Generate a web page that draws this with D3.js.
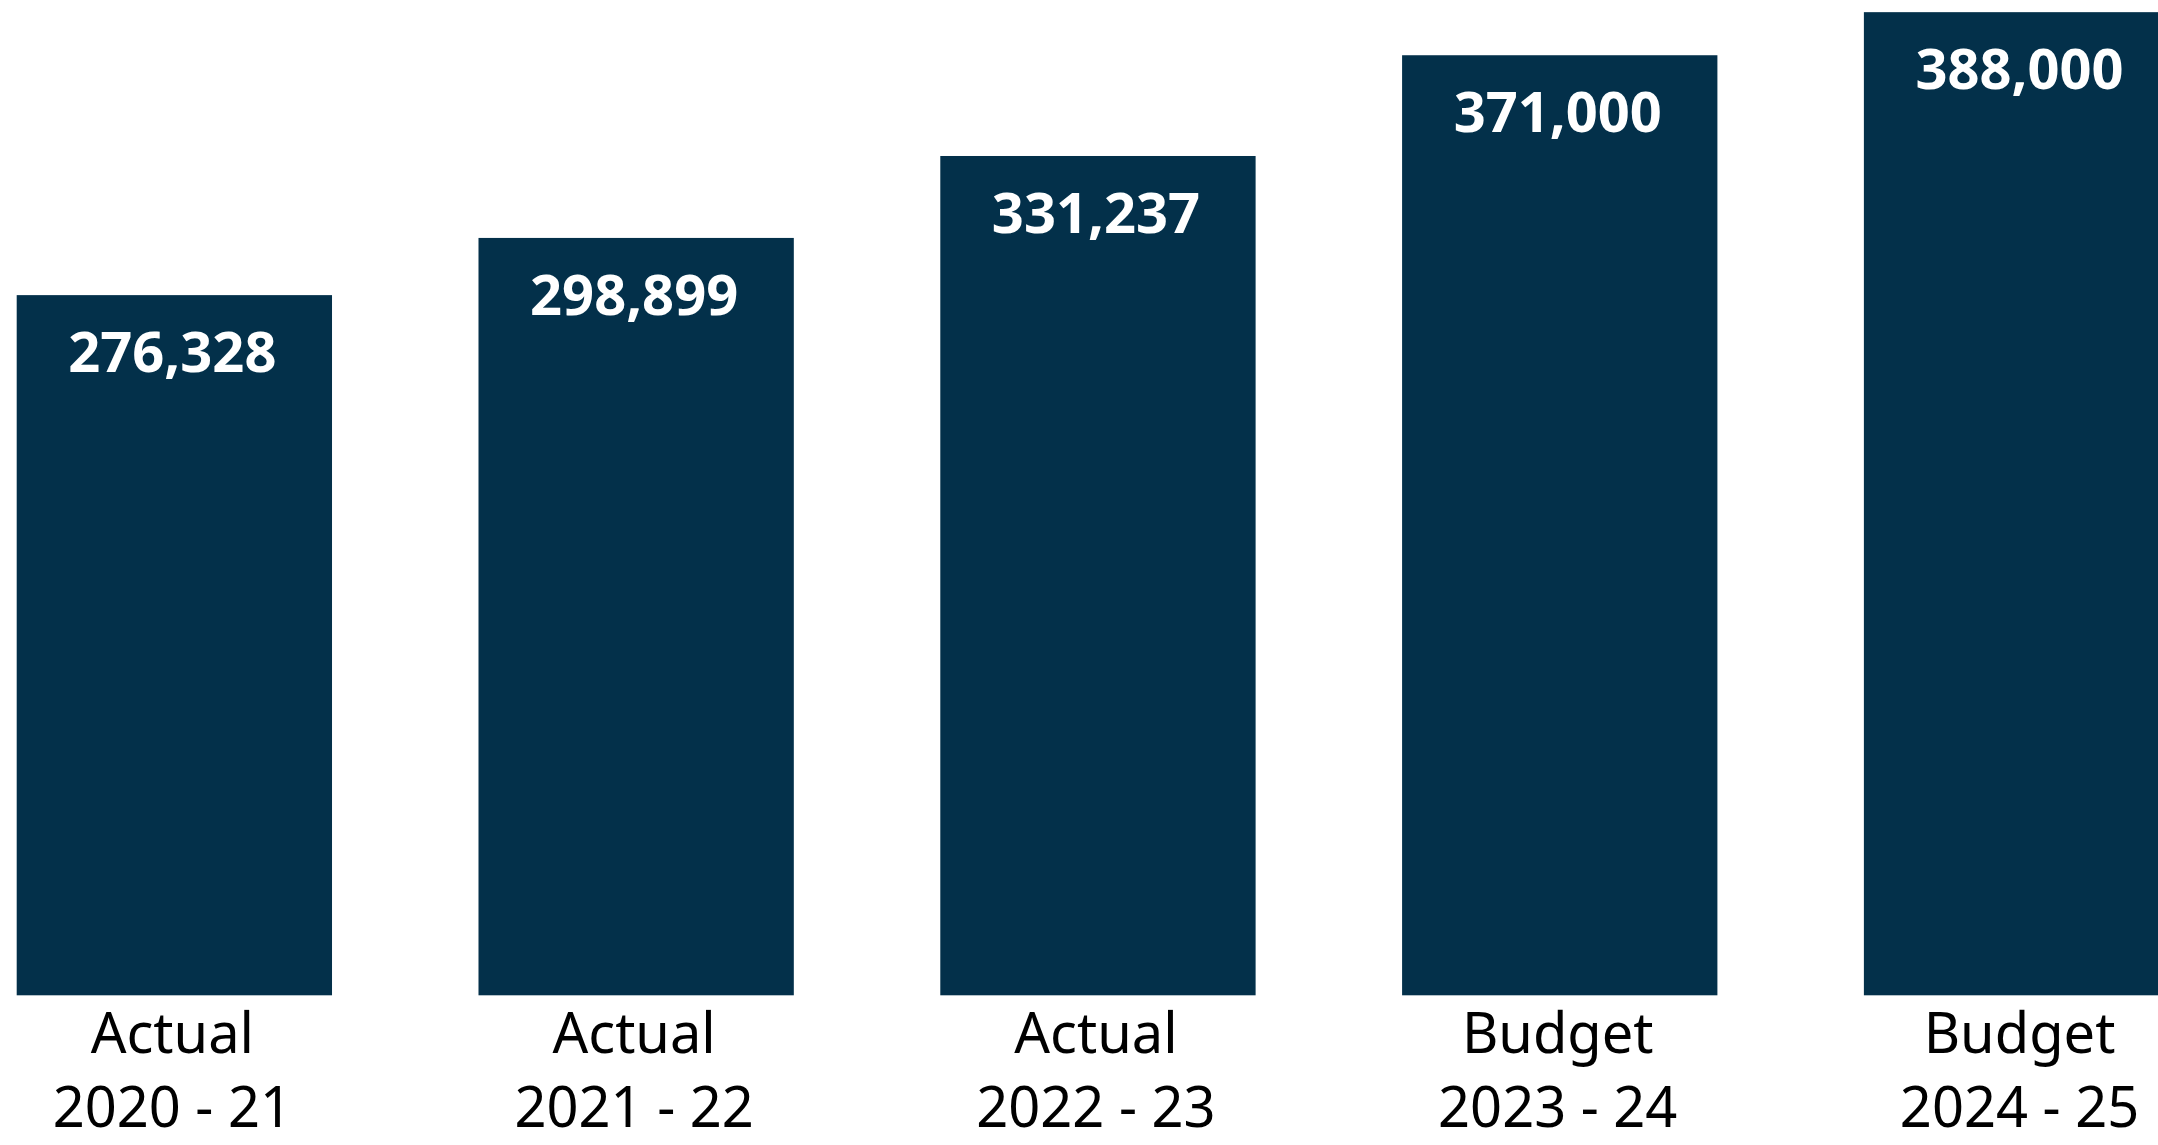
<!DOCTYPE html>
<html>
<head>
<meta charset="utf-8">
<script src="https://cdn.jsdelivr.net/npm/d3@7"></script>
<style>
  html, body { margin: 0; padding: 0; background: #ffffff; overflow: hidden; }
  svg { display: block; }
</style>
</head>
<body>
<svg id="chart" width="2158" height="1145"></svg>
<script>
// Yearly figures: three actuals followed by two budgets
const kinds   = ["Actual", "Actual", "Actual", "Budget", "Budget"];
const periods = ["2020 - 21", "2021 - 22", "2022 - 23", "2023 - 24", "2024 - 25"];
const values  = [276328, 298899, 331237, 371000, 388000];

const W = 2158, H = 1145;
const barColor = "#03304a";

const svg = d3.select("#chart");

const x = d3.scaleBand()
  .domain(periods)
  .range([16.7, 2179.2])
  .paddingInner(0.3172)
  .paddingOuter(0);

const y = d3.scaleLinear()
  .domain([0, 392800])
  .range([995.3, 0]);

const fmt = d3.format(",");

const rows = periods.map((p, i) => ({ period: p, kind: kinds[i], value: values[i] }));

// Bars
svg.append("g").selectAll("rect")
  .data(rows)
  .join("rect")
  .attr("x", d => x(d.period))
  .attr("y", d => y(d.value))
  .attr("width", x.bandwidth())
  .attr("height", d => y(0) - y(d.value))
  .attr("fill", barColor);

// Value labels inside the top of each bar
svg.append("g").selectAll("text")
  .data(rows)
  .join("text")
  .attr("x", d => x(d.period) + x.bandwidth() / 2 - 2)
  .attr("y", d => y(d.value) + 77)
  .attr("text-anchor", "middle")
  .attr("fill", "#ffffff")
  .style("font-family", "'Noto Sans', 'Open Sans', sans-serif")
  .style("font-weight", 700)
  .style("font-size", "56px")
  .text(d => fmt(d.value));

// Two-line category labels under the bars
const cat = svg.append("g").selectAll("text")
  .data(rows)
  .join("text")
  .attr("text-anchor", "middle")
  .attr("fill", "#000000")
  .style("font-family", "'Noto Sans', 'Open Sans', sans-serif")
  .style("font-size", "56px");

cat.append("tspan")
  .attr("x", d => x(d.period) + x.bandwidth() / 2 - 2)
  .attr("y", 1053)
  .text(d => d.kind);

cat.append("tspan")
  .attr("x", d => x(d.period) + x.bandwidth() / 2 - 2)
  .attr("y", 1127)
  .text(d => d.period);
</script>
</body>
</html>
